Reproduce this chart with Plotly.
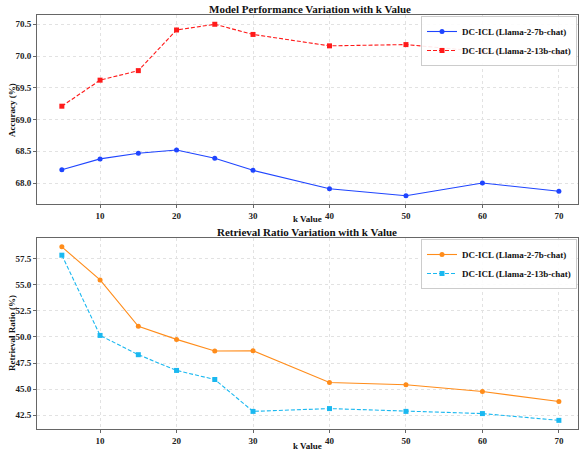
import plotly.graph_objects as go

k_values = [5, 10, 15, 20, 25, 30, 40, 50, 60, 70]
acc_7b = [68.21, 68.38, 68.47, 68.52, 68.39, 68.20, 67.91, 67.80, 68.00, 67.87]
acc_13b = [69.21, 69.62, 69.77, 70.41, 70.50, 70.34, 70.16, 70.18, 70.07, 70.05]
ret_7b = [58.65, 55.48, 51.02, 49.77, 48.65, 48.68, 45.63, 45.41, 44.77, 43.81]
ret_13b = [57.85, 50.15, 48.30, 46.79, 45.92, 42.86, 43.13, 42.86, 42.65, 42.00]

name_7b = "DC-ICL (Llama-2-7b-chat)"
name_13b = "DC-ICL (Llama-2-13b-chat)"
x_ticks = [10, 20, 30, 40, 50, 60, 70]

FONT = "Liberation Serif"
W, H = 579, 452
DASH = "4px,2px"

fig = go.Figure()
fig.add_trace(go.Scatter(x=k_values, y=acc_7b, name=name_7b, mode="lines+markers",
                         line=dict(color="#1f45ff", width=1.1),
                         marker=dict(symbol="circle", size=5, color="#1f45ff"),
                         xaxis="x", yaxis="y", legend="legend"))
fig.add_trace(go.Scatter(x=k_values, y=acc_13b, name=name_13b, mode="lines+markers",
                         line=dict(color="#ff1a1a", width=1.1, dash=DASH),
                         marker=dict(symbol="square", size=5, color="#ff1a1a"),
                         xaxis="x", yaxis="y", legend="legend"))
fig.add_trace(go.Scatter(x=k_values, y=ret_7b, name=name_7b, mode="lines+markers",
                         line=dict(color="#ff8c1a", width=1.1),
                         marker=dict(symbol="circle", size=5, color="#ff8c1a"),
                         xaxis="x2", yaxis="y2", legend="legend2"))
fig.add_trace(go.Scatter(x=k_values, y=ret_13b, name=name_13b, mode="lines+markers",
                         line=dict(color="#1ab8f0", width=1.1, dash=DASH),
                         marker=dict(symbol="square", size=5, color="#1ab8f0"),
                         xaxis="x2", yaxis="y2", legend="legend2"))

xd = [37 / W, 578 / W]
top_dom = [1 - 204 / H, 1 - 15 / H]
bot_dom = [1 - 429 / H, 1 - 238 / H]

tickfont = dict(family=FONT, size=9, color="#222222", weight="bold")
axis_common = dict(showline=True, mirror=True, linecolor="#666666", linewidth=1,
                   showgrid=True, gridcolor="#e2e2e2", griddash="dot", gridwidth=0.8,
                   ticks="outside", ticklen=3, tickcolor="#666666", zeroline=False,
                   tickfont=tickfont)

legfont = dict(family=FONT, size=9, color="#111111", weight="bold")
fig.update_layout(
    width=W, height=H, margin=dict(l=0, r=0, t=0, b=0),
    paper_bgcolor="white", plot_bgcolor="white",
    font=dict(family=FONT, color="#111111"),
    xaxis=dict(domain=xd, range=[1.75, 72.5], anchor="y", tickvals=x_ticks, **axis_common),
    yaxis=dict(domain=top_dom, range=[67.67, 70.646], anchor="x",
               tickvals=[68.0, 68.5, 69.0, 69.5, 70.0, 70.5], tickformat=".1f", **axis_common),
    xaxis2=dict(domain=xd, range=[1.75, 72.5], anchor="y2", tickvals=x_ticks, **axis_common),
    yaxis2=dict(domain=bot_dom, range=[41.17, 59.5], anchor="x2",
                tickvals=[42.5, 45.0, 47.5, 50.0, 52.5, 55.0, 57.5], tickformat=".1f", **axis_common),
    legend=dict(x=577 / W, y=1 - 16 / H, xanchor="right", yanchor="top",
                bgcolor="rgba(255,255,255,0.9)", bordercolor="#cccccc", borderwidth=1,
                font=legfont, tracegroupgap=0, itemwidth=30),
    legend2=dict(x=577 / W, y=1 - 239 / H, xanchor="right", yanchor="top",
                 bgcolor="rgba(255,255,255,0.9)", bordercolor="#cccccc", borderwidth=1,
                 font=legfont, tracegroupgap=0, itemwidth=30),
    showlegend=True,
)

ann = [
    dict(text="<b>Model Performance Variation with k Value</b>", x=310 / W, y=1 - 9 / H, size=11),
    dict(text="<b>Retrieval Ratio Variation with k Value</b>", x=307 / W, y=1 - 232 / H, size=11),
    dict(text="<b>k Value</b>", x=307 / W, y=1 - 219 / H, size=9),
    dict(text="<b>k Value</b>", x=307 / W, y=1 - 446 / H, size=9),
]
for a in ann:
    fig.add_annotation(text=a["text"], x=a["x"], y=a["y"], xref="paper", yref="paper",
                       showarrow=False, xanchor="center", yanchor="middle",
                       font=dict(family=FONT, size=a["size"], color="#111111"))
fig.add_annotation(text="<b>Accuracy (%)</b>", x=12 / W, y=1 - 110 / H, xref="paper", yref="paper",
                   showarrow=False, textangle=-90, xanchor="center", yanchor="middle",
                   font=dict(family=FONT, size=9, color="#111111"))
fig.add_annotation(text="<b>Retrieval Ratio (%)</b>", x=12 / W, y=1 - 333 / H, xref="paper", yref="paper",
                   showarrow=False, textangle=-90, xanchor="center", yanchor="middle",
                   font=dict(family=FONT, size=9, color="#111111"))

fig.write_html("out.html", config={"displayModeBar": False},
               post_script="document.body.style.margin='0px';document.body.style.overflow='hidden';")
